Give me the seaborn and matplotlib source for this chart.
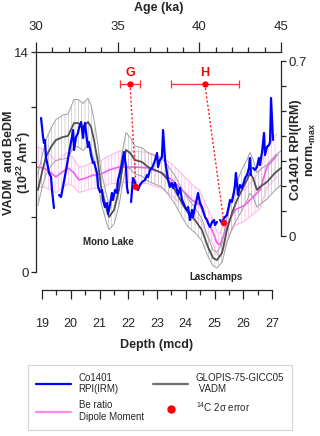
import numpy as np
import pandas as pd
import matplotlib
matplotlib.use("Agg")
import matplotlib.pyplot as plt
import seaborn as sns
from matplotlib.lines import Line2D
from matplotlib.ticker import MultipleLocator

# GLOPIS-75-GICC05 VADM (10^22 Am^2) against age (ka), with half-width of its band
glopis_age = [30.12, 30.37, 30.61, 30.92, 31.22, 31.65, 31.96, 32.33, 32.57, 32.88,
              33.18, 33.37, 33.55, 33.80, 33.98, 34.29, 34.47, 34.78, 35.08, 35.27,
              35.51, 35.76, 36.06, 36.49, 36.86, 37.29, 37.71, 38.08, 38.51, 38.94,
              39.31, 39.73, 40.16, 40.53, 40.84, 41.08, 41.39, 41.69, 42.00, 42.31,
              42.61, 42.92, 43.10, 43.29, 43.53, 43.71, 44.14, 44.63, 45.00]
glopis_vadm = [5.22, 6.37, 7.32, 7.96, 8.40, 8.59, 8.66, 9.48, 9.48, 9.23,
               9.55, 9.23, 8.40, 6.94, 5.41, 4.14, 3.50, 3.95, 5.22, 6.49,
               7.77, 7.57, 7.13, 7.00, 6.68, 6.49, 6.30, 5.86, 5.22, 4.39,
               3.76, 3.31, 2.67, 1.59, 0.89, 0.76, 1.21, 2.67, 3.76, 4.58,
               5.22, 5.86, 6.30, 5.98, 5.22, 5.41, 5.73, 6.30, 6.62]
glopis_err = [1.0, 1.0, 1.1, 1.2, 1.3, 1.4, 1.4, 1.5, 1.5, 1.5,
              1.5, 1.4, 1.3, 1.1, 1.0, 0.9, 0.8, 0.9, 1.0, 1.1,
              1.1, 1.0, 0.9, 0.9, 0.9, 0.9, 0.9, 0.9, 0.9, 0.9,
              0.9, 0.8, 0.7, 0.6, 0.5, 0.5, 0.6, 0.8, 1.0, 1.2,
              1.3, 1.3, 1.3, 1.2, 1.1, 1.1, 1.1, 1.1, 1.1]

# Be ratio dipole moment
be_age = [30.00, 30.49, 30.92, 31.22, 31.53, 31.96, 32.27, 32.63, 33.06, 33.49,
          33.86, 34.47, 35.08, 36.06, 36.86, 37.71, 38.33, 38.94, 39.55, 40.04,
          40.35, 40.78, 41.08, 41.27, 41.45, 41.76, 42.18, 42.80, 43.29, 43.71,
          44.14, 44.76]
be_dm = [6.68, 6.62, 6.30, 6.05, 6.30, 6.62, 6.37, 5.86, 5.98, 6.17,
         6.17, 6.49, 6.68, 6.68, 6.62, 6.30, 5.86, 5.22, 4.58, 4.26,
         3.50, 2.67, 1.85, 1.72, 2.23, 3.12, 3.95, 4.26, 4.77, 5.22,
         6.68, 7.45]
be_err = [1.3, 1.2, 1.1, 1.0, 1.0, 1.0, 0.9, 0.8, 0.8, 0.85,
          0.85, 0.9, 1.0, 1.0, 1.0, 1.0, 1.0, 1.0, 1.0, 0.9,
          0.9, 0.8, 0.7, 0.7, 0.8, 0.9, 1.0, 1.0, 1.1, 1.2,
          1.3, 1.4]

# Co1401 RPI(IRM) norm. max, in pieces separated by gaps
rpi_age = [30.31, 30.43, 30.49, 30.55, 30.61, 30.73, 30.80, 30.92, 30.98, 31.10,
           31.41, 31.53, 31.65, 31.84, 32.02, 32.20, 32.27, 32.33, 32.45, 32.57,
           32.63, 32.76, 32.88, 32.94, 33.00, 33.12, 33.18, 33.24, 33.37, 33.49,
           33.55, 33.73, 33.80, 33.92, 34.04, 34.10, 34.22, 34.35, 34.41, 34.53,
           34.65, 34.71, 34.84, 34.96, 35.02, 35.14, 35.27, 35.33, 35.39, 35.51,
           35.57, 35.63,
           35.82, 35.94, 36.06, 36.12, 36.24, 36.37, 36.49, 36.67, 36.80, 36.86,
           36.98, 37.10, 37.16, 37.29, 37.41, 37.47, 37.59, 37.71, 37.78, 37.90,
           38.02, 38.08, 38.20, 38.33, 38.39, 38.51, 38.63, 38.69, 38.82, 38.94,
           39.00, 39.12, 39.24, 39.31, 39.43, 39.55, 39.61, 39.73, 39.86, 39.92,
           40.04, 40.16, 40.22, 40.35, 40.47, 40.53, 40.65, 40.78, 40.90, 40.96,
           41.08,
           41.27, 41.39, 41.51, 41.69, 41.82, 41.88, 42.00, 42.12, 42.18, 42.24,
           42.37, 42.49, 42.61, 42.73, 42.80, 42.92, 43.04, 43.10, 43.16,
           43.29, 43.41, 43.53, 43.65, 43.71, 43.84, 43.96, 44.02, 44.14, 44.27,
           44.33, 44.39, 44.51]
rpi_val = [0.472, 0.396, 0.372, 0.384, 0.316, 0.276, 0.252, 0.236, 0.184, 0.112,
           0.164, 0.156, 0.196, 0.264, 0.332, 0.396, 0.424, 0.344, 0.396, 0.412,
           0.432, 0.456, 0.392, 0.432, 0.452, 0.384, 0.356, 0.376, 0.324, 0.292,
           0.296, 0.252, 0.196, 0.176, 0.184, 0.144, 0.116, 0.132, 0.088, 0.124,
           0.172, 0.144, 0.184, 0.172, 0.224, 0.252, 0.292, 0.316, 0.336, 0.276,
           0.196, 0.172,
           0.136, 0.232, 0.216, 0.192, 0.184, 0.204, 0.216, 0.224, 0.244, 0.236,
           0.264, 0.272, 0.280, 0.304, 0.332, 0.276, 0.304, 0.316, 0.424, 0.304,
           0.252, 0.224, 0.196, 0.212, 0.192, 0.212, 0.184, 0.164, 0.192, 0.144,
           0.136, 0.116, 0.104, 0.116, 0.064, 0.104, 0.076, 0.116, 0.152, 0.172,
           0.132, 0.116, 0.104, 0.076, 0.064, 0.052, 0.036, 0.056, 0.064, 0.044,
           0.056,
           0.064, 0.052, 0.072, 0.084, 0.124, 0.144, 0.136, 0.176, 0.204, 0.252,
           0.164, 0.204, 0.192, 0.216, 0.232, 0.244, 0.272, 0.312, 0.244,
           0.272, 0.264, 0.276, 0.312, 0.284, 0.336, 0.412, 0.324, 0.356, 0.364,
           0.376, 0.552, 0.384]
rpi_seg = [1] * 10 + [2] * 42 + [3] * 51 + [4] * 19 + [5] * 13

# 14C tie points G and H (age with 2 sigma range) and where they sit on the RPI record
c14_label = ["G", "H"]
c14_age = [35.76, 40.34]
c14_lo = [35.14, 38.26]
c14_hi = [36.37, 42.42]
tie_age = [36.12, 41.51]
tie_rpi = [0.196, 0.052]

sns.set_style("ticks")
plt.rcParams["font.family"] = ["Liberation Sans", "DejaVu Sans"]
plt.rcParams["mathtext.fontset"] = "custom"
plt.rcParams["mathtext.rm"] = "Liberation Sans"
plt.rcParams["mathtext.bf"] = "Liberation Sans:bold"
plt.rcParams["hatch.linewidth"] = 0.5

W, H = 320, 436
fig = plt.figure(figsize=(3.2, 4.36), dpi=100)
ax = fig.add_axes([36 / W, 1 - 272 / H, 245 / W, 220 / H])
ax.patch.set_visible(False)

# Be ratio band
be_lo = np.array(be_dm) - np.array(be_err)
be_hi = np.array(be_dm) + np.array(be_err)
ax.fill_between(be_age, be_lo, be_hi, facecolor="none", edgecolor="#ffb8ea",
                hatch="|||||", linewidth=0)
sns.lineplot(x=be_age, y=be_lo, color="#ffb0e6", lw=0.7, ax=ax)
sns.lineplot(x=be_age, y=be_hi, color="#ffb0e6", lw=0.7, ax=ax)
sns.lineplot(x=be_age, y=be_dm, color="#f060f0", lw=1.2, ax=ax)

# GLOPIS band
g_lo = np.array(glopis_vadm) - np.array(glopis_err)
g_hi = np.array(glopis_vadm) + np.array(glopis_err)
ax.fill_between(glopis_age, g_lo, g_hi, facecolor="none", edgecolor="#c4c4c4",
                hatch="|||||", linewidth=0)
sns.lineplot(x=glopis_age, y=g_lo, color="#a0a0a0", lw=0.7, ax=ax)
sns.lineplot(x=glopis_age, y=g_hi, color="#a0a0a0", lw=0.7, ax=ax)
sns.lineplot(x=glopis_age, y=glopis_vadm, color="#505050", lw=1.3, ax=ax)

ax.set_xlim(30, 45)
ax.set_ylim(0, 14)
ax.set_xlabel("")
ax.set_ylabel("")
for s in ["bottom", "right"]:
    ax.spines[s].set_visible(False)
for s in ["top", "left"]:
    ax.spines[s].set_linewidth(0.9)
ax.xaxis.tick_top()
ax.set_xticks([30, 35, 40, 45])
ax.xaxis.set_minor_locator(MultipleLocator(1))
ax.tick_params(axis="x", which="major", length=7, width=0.9, pad=6.5, labelsize=9.5, direction="out")
ax.tick_params(axis="x", which="minor", length=3.6, width=0.9, direction="out")
ax.set_yticks([0, 3.5, 7, 10.5, 14])
ax.set_yticklabels(["0", "", "", "", "14"])
ax.tick_params(axis="y", length=3.6, width=0.9, pad=1.5, labelsize=9.5, direction="out")
ax.text(0.5, (272 - 8) / 220, "Age (ka)", transform=ax.transAxes, ha="center", va="center",
        fontsize=9, fontweight="bold")

ax.text(34.41, 1.91, "Mono Lake", ha="center", va="center", fontsize=7, fontweight="bold")
ax.text(41.02, -0.32, "Laschamps", ha="center", va="center", fontsize=7,
        fontweight="bold", clip_on=False)

# right axis: RPI
axr = ax.twinx()
df_rpi = pd.DataFrame({"age": rpi_age, "rpi": rpi_val, "seg": rpi_seg})
sns.lineplot(data=df_rpi, x="age", y="rpi", units="seg", estimator=None, sort=False,
             color="#0000ff", lw=1.6, ax=axr)
axr.set_ylim(-0.144, 0.736)
axr.set_xlim(30, 45)
axr.set_ylabel("")
for s in ["top", "left", "bottom"]:
    axr.spines[s].set_visible(False)
axr.spines["right"].set_bounds(0, 0.7)
axr.spines["right"].set_linewidth(0.9)
axr.set_yticks(np.arange(0, 0.71, 0.1))
axr.set_yticklabels(["0", "", "", "", "", "", "", "0.7"])
axr.tick_params(axis="y", length=3.6, width=0.9, pad=1.5, labelsize=9.5, direction="out")

# 14C ties
for i in range(2):
    axr.plot([c14_age[i], tie_age[i]], [0.608, tie_rpi[i]], color="#ff2020",
             lw=1.0, ls=(0, (1.5, 1.5)))
    axr.text(c14_age[i], 0.654, c14_label[i], color="#ff0000", ha="center", va="center",
             fontsize=9, fontweight="bold")
xerr = [np.array(c14_age) - np.array(c14_lo), np.array(c14_hi) - np.array(c14_age)]
axr.errorbar(c14_age, [0.608, 0.608], xerr=xerr, fmt="o", color="#ff3030", ms=3.5,
             mfc="#ff0000", mec="#ff0000", capsize=3, elinewidth=0.9, capthick=0.9)
sns.scatterplot(x=tie_age, y=tie_rpi, color="#ff0000", s=22, edgecolor="none", ax=axr, zorder=5)

# depth axis
axd = fig.add_axes([42 / W, 1 - 290 / H, 230 / W, 0.0005])
axd.patch.set_visible(False)
for s in ["top", "left", "right"]:
    axd.spines[s].set_visible(False)
axd.spines["bottom"].set_linewidth(0.9)
axd.set_xlim(19, 27)
axd.set_yticks([])
axd.set_xticks(range(19, 28))
axd.xaxis.set_minor_locator(MultipleLocator(0.5))
axd.tick_params(axis="x", which="major", length=6.8, width=0.9, pad=13.5, labelsize=9, direction="out")
axd.tick_params(axis="x", which="minor", length=3.6, width=0.9, direction="out")
axd.set_xlabel("Depth (mcd)", fontsize=9, fontweight="bold", labelpad=6)

fig.text(18 / W, 1 - 163 / H, "VADM  and BeDM\n(10$^{\\mathbf{22}}$ Am$^{\\mathbf{2}}$)",
         rotation=90, ha="center", va="center", multialignment="center",
         fontsize=9, fontweight="bold", linespacing=0.95)
fig.text(304 / W, 1 - 150 / H, "Co1401 RPI(IRM)\nnorm.$_{\\mathbf{max}}$",
         rotation=90, ha="center", va="center", multialignment="center",
         fontsize=9, fontweight="bold", linespacing=1.1)

handles = [
    Line2D([], [], color="#0000ff", lw=1.6),
    Line2D([], [], color="#ff88ee", lw=1.6),
    Line2D([], [], color="#707070", lw=1.6),
    Line2D([], [], color="#ff0000", marker="o", ls="none", ms=5),
]
labels = ["Co1401\nRPI(IRM)", "Be ratio\nDipole Moment", "GLOPIS-75-GICC05\n VADM",
          "$^{14}$C 2σ error"]
leg = fig.legend(handles, labels, loc="upper left", ncol=2, mode="expand",
                 bbox_to_anchor=(28 / W, 1 - 433 / H, 264 / W, 68 / H),
                 fontsize=7, frameon=True, fancybox=False, edgecolor="#c8c8c8",
                 handlelength=3.6, handletextpad=0.8, columnspacing=0.5,
                 labelspacing=0.6, borderpad=0.8, borderaxespad=0)
leg.get_frame().set_linewidth(0.8)

fig.savefig("out.png", dpi=100)
